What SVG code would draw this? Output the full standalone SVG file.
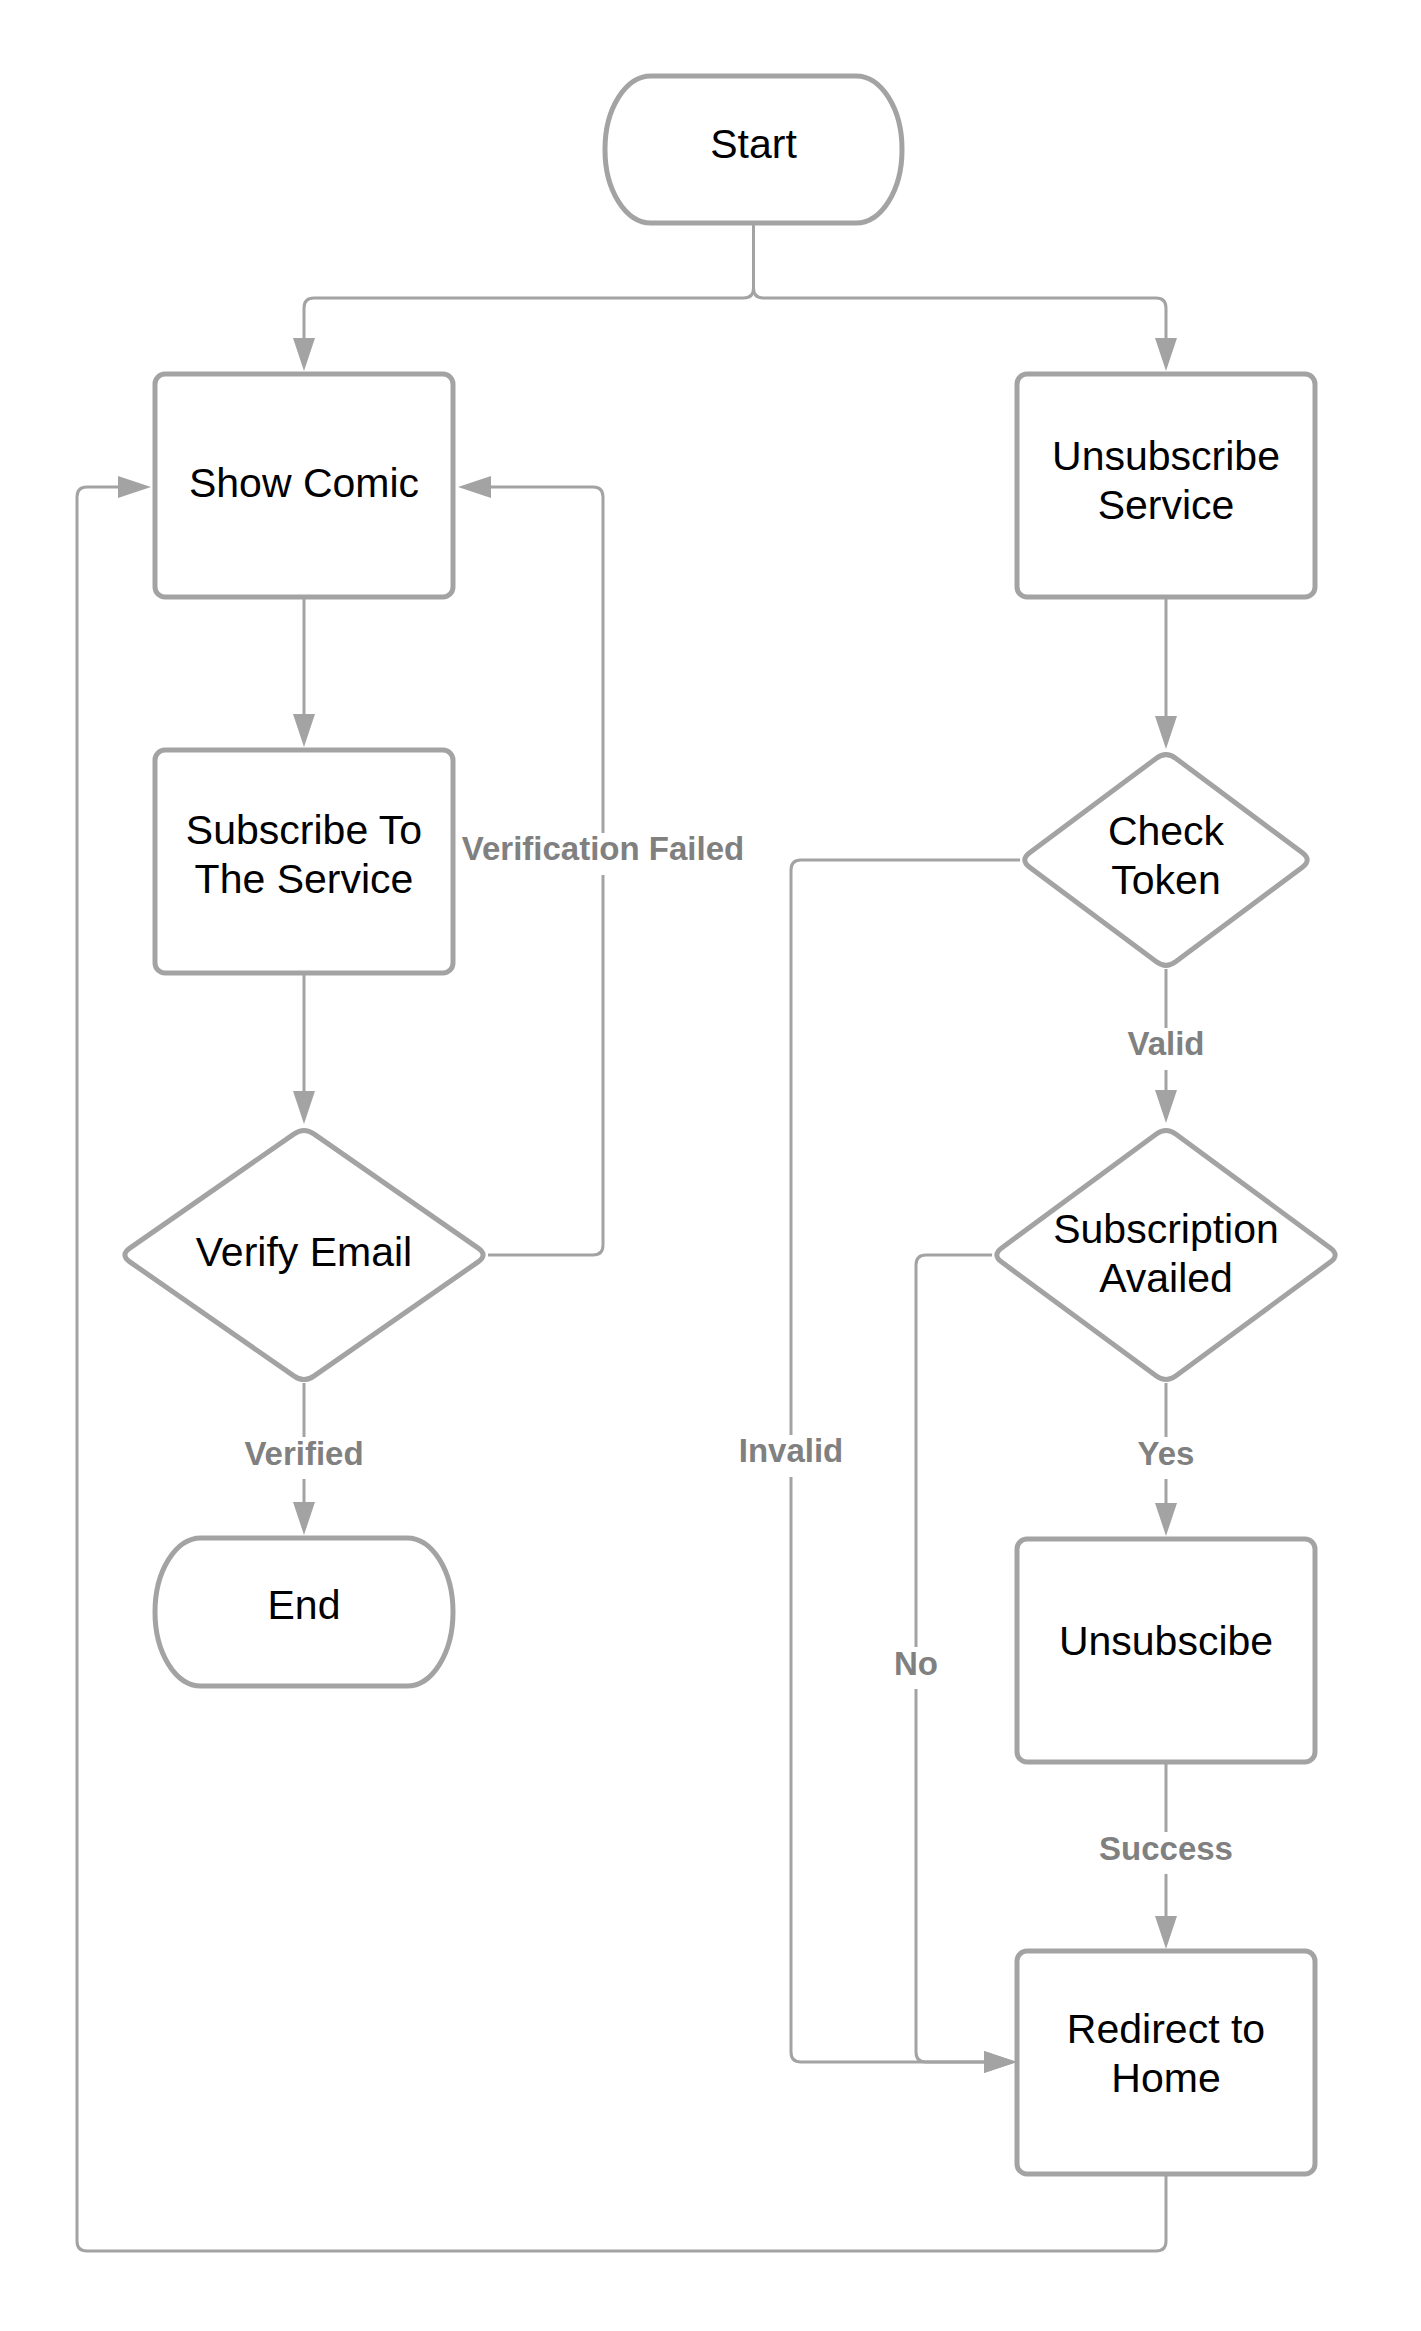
<svg xmlns="http://www.w3.org/2000/svg" width="1421" height="2331" viewBox="0 0 1421 2331">
<style>
.node{fill:#ffffff;stroke:#a3a3a3;stroke-width:5}
.conn{fill:none;stroke:#a3a3a3;stroke-width:3}
.txt{font-family:"Liberation Sans",Arial,sans-serif;font-size:41px;fill:#000000;text-anchor:middle}
.lbl{font-family:"Liberation Sans",Arial,sans-serif;font-size:33px;font-weight:bold;fill:#808080;text-anchor:middle}
.lbg{fill:#ffffff}
</style>
<defs>
<marker id="arr" viewBox="0 0 33 22" refX="0" refY="11" markerWidth="33" markerHeight="22" markerUnits="userSpaceOnUse" orient="auto">
<path d="M0,0 L33,11 L0,22 Z" fill="#a3a3a3"/>
</marker>
</defs>
<rect width="1421" height="2331" fill="#ffffff"/>
<g id="connectors">
<path class="conn" d="M753.5,224 L753.5,288 Q753.5,298 743.5,298 L314,298 Q304,298 304,308 L304,338" marker-end="url(#arr)"/>
<path class="conn" d="M753.5,224 L753.5,288 Q753.5,298 763.5,298 L1156,298 Q1166,298 1166,308 L1166,338" marker-end="url(#arr)"/>
<path class="conn" d="M304,597 L304,714" marker-end="url(#arr)"/>
<path class="conn" d="M304,973 L304,1091" marker-end="url(#arr)"/>
<path class="conn" d="M304,1383 L304,1502" marker-end="url(#arr)"/>
<path class="conn" d="M488,1255 L593,1255 Q603,1255 603,1245 L603,497 Q603,487 593,487 L491,487" marker-end="url(#arr)"/>
<path class="conn" d="M1166,2174 L1166,2241 Q1166,2251 1156,2251 L87,2251 Q77,2251 77,2241 L77,497 Q77,487 87,487 L118,487" marker-end="url(#arr)"/>
<path class="conn" d="M1166,597 L1166,716" marker-end="url(#arr)"/>
<path class="conn" d="M1166,969 L1166,1090" marker-end="url(#arr)"/>
<path class="conn" d="M1020,860 L801,860 Q791,860 791,870 L791,2052 Q791,2062 801,2062 L984,2062" marker-end="url(#arr)"/>
<path class="conn" d="M992,1255 L926,1255 Q916,1255 916,1265 L916,2052 Q916,2062 926,2062 L984,2062" marker-end="url(#arr)"/>
<path class="conn" d="M1166,1383 L1166,1503" marker-end="url(#arr)"/>
<path class="conn" d="M1166,1762 L1166,1916" marker-end="url(#arr)"/>
<rect class="lbg" x="458" y="833" width="290" height="42"/>
<text class="lbl" x="603" y="860">Verification Failed</text>
<rect class="lbg" x="240" y="1437" width="128" height="42"/>
<text class="lbl" x="304" y="1465">Verified</text>
<rect class="lbg" x="1123" y="1028" width="86" height="42"/>
<text class="lbl" x="1166" y="1055">Valid</text>
<rect class="lbg" x="1133" y="1437" width="66" height="42"/>
<text class="lbl" x="1166" y="1465">Yes</text>
<rect class="lbg" x="735" y="1435" width="112" height="42"/>
<text class="lbl" x="791" y="1462">Invalid</text>
<rect class="lbg" x="890" y="1647" width="52" height="42"/>
<text class="lbl" x="916" y="1675">No</text>
<rect class="lbg" x="1095" y="1832" width="142" height="42"/>
<text class="lbl" x="1166" y="1860">Success</text>
</g>
<g id="start">
<rect class="node" x="605" y="76" width="297" height="147" rx="46" ry="73"/>
<text class="txt" x="753.5" y="158">Start</text>
</g>
<g id="show-comic">
<rect class="node" x="155" y="374" width="298" height="223" rx="10"/>
<text class="txt" x="304" y="497">Show Comic</text>
</g>
<g id="unsubscribe-service">
<rect class="node" x="1017" y="374" width="298" height="223" rx="10"/>
<text class="txt" x="1166" y="470">Unsubscribe</text>
<text class="txt" x="1166" y="519">Service</text>
</g>
<g id="subscribe">
<rect class="node" x="155" y="750" width="298" height="223" rx="10"/>
<text class="txt" x="304" y="844">Subscribe To</text>
<text class="txt" x="304" y="893">The Service</text>
</g>
<g id="verify-email">
<path class="node" d="M294.15,1133.85 Q304,1127 313.85,1133.85 L478.15,1248.15 Q488,1255 478.15,1261.85 L313.85,1376.15 Q304,1383 294.15,1376.15 L129.85,1261.85 Q120,1255 129.85,1248.15 Z"/>
<text class="txt" x="304" y="1266">Verify Email</text>
</g>
<g id="end">
<rect class="node" x="155" y="1538" width="298" height="148" rx="46" ry="74"/>
<text class="txt" x="304" y="1619">End</text>
</g>
<g id="check-token">
<path class="node" d="M1156.4,758.2 Q1166,751 1175.6,758.2 L1302.4,852.8 Q1312,860 1302.4,867.2 L1175.6,961.8 Q1166,969 1156.4,961.8 L1029.6,867.2 Q1020,860 1029.6,852.8 Z"/>
<text class="txt" x="1166" y="845">Check</text>
<text class="txt" x="1166" y="894">Token</text>
</g>
<g id="subscription-availed">
<path class="node" d="M1156.33,1134.11 Q1166,1127 1175.67,1134.11 L1330.33,1247.89 Q1340,1255 1330.33,1262.11 L1175.67,1375.89 Q1166,1383 1156.33,1375.89 L1001.67,1262.11 Q992,1255 1001.67,1247.89 Z"/>
<text class="txt" x="1166" y="1243">Subscription</text>
<text class="txt" x="1166" y="1292">Availed</text>
</g>
<g id="unsubscibe">
<rect class="node" x="1017" y="1539" width="298" height="223" rx="10"/>
<text class="txt" x="1166" y="1655">Unsubscibe</text>
</g>
<g id="redirect-home">
<rect class="node" x="1017" y="1951" width="298" height="223" rx="10"/>
<text class="txt" x="1166" y="2043">Redirect to</text>
<text class="txt" x="1166" y="2092">Home</text>
</g>
</svg>
